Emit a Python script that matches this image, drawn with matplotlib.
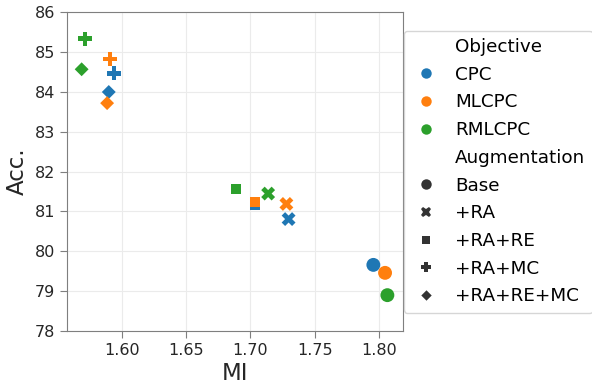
import matplotlib
matplotlib.use("Agg")
import matplotlib.pyplot as plt
import pandas as pd
import seaborn as sns

# values
objectives = ["CPC"] * 5 + ["MLCPC"] * 5 + ["RMLCPC"] * 5
augmentations = ["Base", "+RA", "+RA+RE", "+RA+MC", "+RA+RE+MC"] * 3
mi = [1.7956, 1.7297, 1.7039, 1.5941, 1.5899,
      1.8047, 1.7280, 1.7039, 1.5909, 1.5886,
      1.8065, 1.7138, 1.6889, 1.5715, 1.5688]
acc = [79.66, 80.81, 81.16, 84.47, 84.00,
       79.46, 81.19, 81.24, 84.83, 83.72,
       78.90, 81.45, 81.57, 85.34, 84.57]

df = pd.DataFrame({"MI": mi, "Acc.": acc,
                   "Objective": objectives, "Augmentation": augmentations})

fig = plt.figure(figsize=(5.92, 3.81), dpi=100)
ax = fig.add_axes([0.1127, 0.1312, 0.5675, 0.8365])

sns.scatterplot(data=df, x="MI", y="Acc.", hue="Objective", style="Augmentation",
                s=100, ax=ax, linewidth=0, legend="full")

ax.set_xlim(1.5572, 1.8184)
ax.set_ylim(78, 86)
ax.set_xticks([1.60, 1.65, 1.70, 1.75, 1.80])
ax.set_yticks(range(78, 87))
ax.grid(True, color="#ebebeb", linewidth=0.8)
ax.set_axisbelow(True)
for sp in ax.spines.values():
    sp.set_color("#7f7f7f")
ax.tick_params(colors="#7f7f7f", labelcolor="#262626", labelsize=11.5, length=5)
ax.set_xlabel("MI", fontsize=16.5, color="#262626", labelpad=3)
ax.set_ylabel("Acc.", fontsize=16.5, color="#262626", labelpad=4)

leg = ax.legend(loc="center left", bbox_to_anchor=(1.0, 0.5), fontsize=13.2,
                frameon=True, fancybox=True, labelspacing=0.53,
                handlelength=1.6, borderaxespad=0.05)
leg.get_frame().set_edgecolor("#cccccc")
for h in leg.legend_handles:
    if hasattr(h, "set_markersize"):
        h.set_markersize(7.5)
    elif hasattr(h, "set_sizes"):
        h.set_sizes([56])

fig.savefig("out.png", dpi=100)
